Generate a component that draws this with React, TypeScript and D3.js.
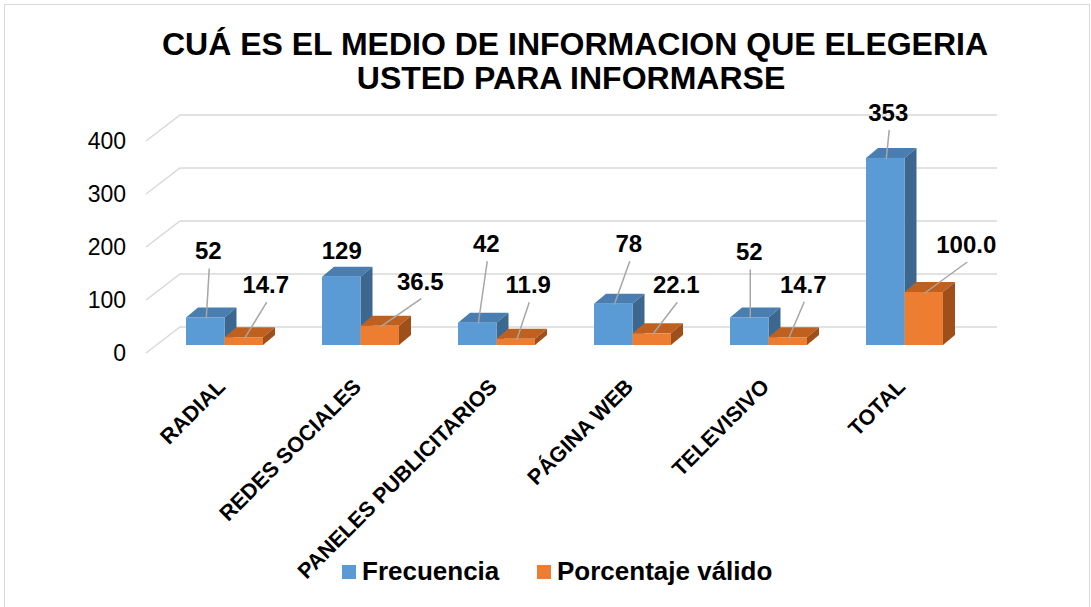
import * as d3 from "d3";

const categories = [
  "RADIAL",
  "REDES SOCIALES",
  "PANELES PUBLICITARIOS",
  "PÁGINA WEB",
  "TELEVISIVO",
  "TOTAL",
];
const frecuencia = [52, 129, 42, 78, 52, 353];
const porcentaje = [14.7, 36.5, 11.9, 22.1, 14.7, 100.0];
const yTicks = [0, 100, 200, 300, 400];
const seriesNames = ["Frecuencia", "Porcentaje válido"];

// hand placed data labels (offset from bar top centre), like in the original
const labelOffsets = [
  [[3, -58], [22, -44]],
  [[0.5, -17.6], [40.5, -36]],
  [[9, -70.5], [12.5, -45.4]],
  [[15.5, -51.5], [24.5, -40]],
  [[0, -57], [15.5, -44.5]],
  [[3, -37], [42.5, -39]],
];

const W = 1091;
const H = 607;
const font = "'Liberation Sans', Arial, sans-serif";

const colors = [
  { front: "#5B9BD5", top: "#4A7EB0", side: "#3C6890" },
  { front: "#ED7D31", top: "#BF601F", side: "#9E4F1A" },
];

export default function App() {
  // front edge of the floor (axis) and the back wall
  const yAxis = d3.scaleLinear().domain([0, 400]).range([353, 141]);
  const wall = { dx: 34, dy: -26 };
  const barShift = -8; // bars sit a bit behind the front edge
  const depth = { dx: 12, dy: -10 };
  const gridRight = 997;

  const x0 = d3
    .scaleBand()
    .domain(categories)
    .range([156.5, 972.5])
    .paddingInner(0.434)
    .paddingOuter(0.217);
  const x1 = d3
    .scaleBand()
    .domain(["0", "1"])
    .range([0, x0.bandwidth()]);

  const yBar = (v: number) => yAxis(v) + barShift;
  const yBase = yBar(0);
  const series = [frecuencia, porcentaje];

  return (
    <svg
      width={W}
      height={H}
      style={{ position: "absolute", left: 0, top: 0, background: "#fff" }}
      fontFamily={font}
    >
      <rect x={4.5} y={4.5} width={W - 6} height={H - 3} fill="#fff" stroke="#D9D9D9" />

      {/* title */}
      <g fontWeight="bold" fontSize={32} textAnchor="middle" fill="#000">
        <text x={575} y={55}>CUÁ ES EL MEDIO DE INFORMACION QUE ELEGERIA</text>
        <text x={571} y={89}>USTED PARA INFORMARSE</text>
      </g>

      {/* gridlines on the back wall + floor diagonals */}
      <g stroke="#D9D9D9" strokeWidth={1.5} fill="none">
        {yTicks.map((t) => {
          const y = yAxis(t);
          return (
            <polyline
              key={t}
              points={`146,${y} ${146 + wall.dx},${y + wall.dy} ${gridRight},${y + wall.dy}`}
            />
          );
        })}
      </g>

      {/* y tick labels */}
      <g fontSize={23} textAnchor="end" fill="#000">
        {yTicks.map((t) => (
          <text key={t} x={126} y={yAxis(t) + 8}>
            {t}
          </text>
        ))}
      </g>

      {/* bars */}
      {categories.map((c, i) => (
        <g key={c}>
          {series.map((s, j) => {
            const bx = x0(c)! + x1(String(j))!;
            const bw = x1.bandwidth();
            const top = yBar(s[i]);
            const col = colors[j];
            return (
              <g key={j}>
                <polygon
                  points={`${bx},${top} ${bx + depth.dx},${top + depth.dy} ${bx + bw + depth.dx},${top + depth.dy} ${bx + bw},${top}`}
                  fill={col.top}
                />
                <polygon
                  points={`${bx + bw},${top} ${bx + bw + depth.dx},${top + depth.dy} ${bx + bw + depth.dx},${yBase + depth.dy} ${bx + bw},${yBase}`}
                  fill={col.side}
                />
                <rect x={bx} y={top} width={bw} height={yBase - top} fill={col.front} />
              </g>
            );
          })}
        </g>
      ))}

      {/* data labels with leader lines */}
      {categories.map((c, i) => (
        <g key={c}>
          {series.map((s, j) => {
            const cx = x0(c)! + x1(String(j))! + x1.bandwidth() / 2;
            const top = yBar(s[i]);
            const [dx, dy] = labelOffsets[i][j];
            const lx = cx + dx;
            const ly = top + dy;
            const txt = j === 0 ? String(s[i]) : s[i].toFixed(1);
            return (
              <g key={j}>
                {dy < -25 && (
                  <line
                    x1={lx + 1}
                    y1={ly + 9}
                    x2={cx + 1}
                    y2={top + 1}
                    stroke="#A6A6A6"
                    strokeWidth={1.5}
                  />
                )}
                <text
                  x={lx}
                  y={ly}
                  textAnchor="middle"
                  fontSize={24}
                  fontWeight="bold"
                  fill="#000"
                >
                  {txt}
                </text>
              </g>
            );
          })}
        </g>
      ))}

      {/* category labels */}
      <g fontSize={21.5} fontWeight="bold" textAnchor="end" fill="#000">
        {categories.map((c) => {
          const cx = x0(c)! + x0.bandwidth() / 2 + 2;
          const cy = 388;
          return (
            <text key={c} transform={`translate(${cx},${cy}) rotate(-45)`}>
              {c}
            </text>
          );
        })}
      </g>

      {/* legend */}
      <g fontSize={26} fontWeight="bold" fill="#000">
        <rect x={342} y={565} width={14} height={14} fill={colors[0].front} />
        <text x={362} y={580}>{seriesNames[0]}</text>
        <rect x={537} y={565} width={14} height={14} fill={colors[1].front} />
        <text x={557} y={580}>{seriesNames[1]}</text>
      </g>
    </svg>
  );
}
